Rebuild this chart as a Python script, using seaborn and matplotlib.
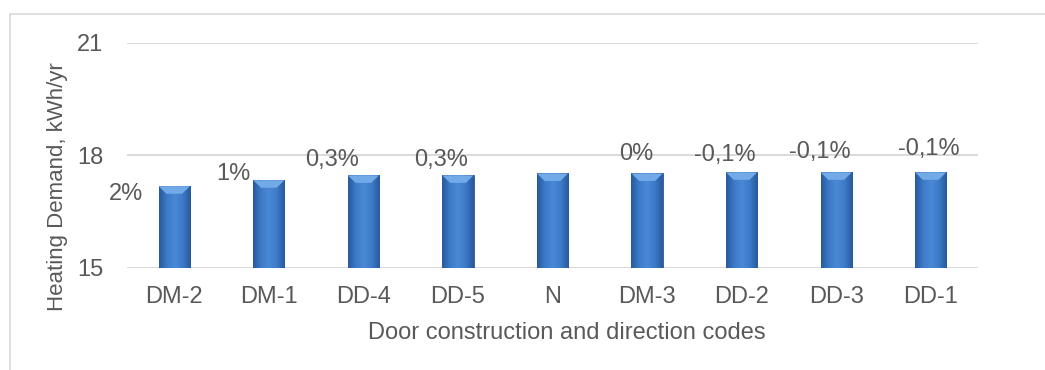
#!/usr/bin/env python3
import matplotlib

matplotlib.use("Agg")

import matplotlib.pyplot as plt
import numpy as np
import pandas as pd
import seaborn as sns
from matplotlib.colors import LinearSegmentedColormap
from matplotlib.lines import Line2D
from matplotlib.patches import Polygon

# Data
codes = ["DM-2", "DM-1", "DD-4", "DD-5", "N", "DM-3", "DD-2", "DD-3", "DD-1"]
heating = [17.18, 17.34, 17.47, 17.47, 17.52, 17.52, 17.55, 17.55, 17.55]
pct_labels = ["2%", "1%", "0,3%", "0,3%", "", "0%", "-0,1%", "-0,1%", "-0,1%"]
y_ticks = [15, 18, 21]

# Where Excel put the data labels (offset from bar centre, label height)
label_dx = [-0.51, -0.38, -0.33, -0.18, 0.0, -0.11, -0.18, -0.17, -0.02]
label_y = [16.97, 17.50, 17.88, 17.88, 18.0, 18.03, 18.02, 18.08, 18.16]

df = pd.DataFrame({"code": codes, "heating": heating})

sns.set_theme(style="white")
plt.rcParams["font.family"] = ["Liberation Sans", "DejaVu Sans"]

text_color = "#595959"
grid_color = "#d9d9d9"
fs = 17

fig = plt.figure(figsize=(10.45, 3.70), dpi=100)
ax = fig.add_axes([0.1215, 0.2757, 0.8144, 0.6081])

sns.barplot(data=df, x="code", y="heating", color="#3c76c4", width=0.33,
            ax=ax, zorder=3)

ax.set_ylim(15, 21)
ax.set_xlim(-0.5, len(codes) - 0.5)
ax.set_yticks(y_ticks)
for yv in y_ticks:
    ax.axhline(yv, color=grid_color, lw=1.4, zorder=1)

for s in ax.spines.values():
    s.set_visible(False)

# bevelled look: horizontal gradient plus a light top cap
cmap = LinearSegmentedColormap.from_list(
    "bevel", ["#28599b", "#3d7bc9", "#4a89d6", "#3d7bc9", "#28599b"])
grad = np.linspace(0, 1, 64).reshape(1, -1)
ybot = ax.get_ylim()[0]
for bar in ax.patches:
    x0, w, h = bar.get_x(), bar.get_width(), bar.get_height()
    top = bar.get_y() + h
    bar.set_edgecolor("#2a5694")
    bar.set_linewidth(0.6)
    ax.imshow(grad, cmap=cmap, aspect="auto", zorder=3.5,
              extent=(x0, x0 + w, ybot, top), interpolation="bicubic")
    cap = 0.2
    ax.add_patch(Polygon([(x0, top), (x0 + w, top),
                          (x0 + w * 0.75, top - cap), (x0 + w * 0.25, top - cap)],
                         closed=True, facecolor="#72aae8", edgecolor="none", zorder=4))
ax.set_xlim(-0.5, len(codes) - 0.5)
ax.set_ylim(15, 21)

for i, lab in enumerate(pct_labels):
    if lab:
        ax.text(i + label_dx[i], label_y[i], lab, ha="center", va="center",
                fontsize=fs, color=text_color, zorder=5)

ax.tick_params(axis="both", length=0, labelsize=fs, labelcolor=text_color)
ax.tick_params(axis="x", pad=13)
ax.tick_params(axis="y", pad=17)

ax.set_xlabel("Door construction and direction codes", fontsize=fs, color=text_color)
ax.set_ylabel("Heating Demand, kWh/yr", fontsize=16, color=text_color)
ax.xaxis.set_label_coords(0.517, -0.24)
ax.yaxis.set_label_coords(-0.069, 0.36)

# chart area border (top and left visible in the reference)
fig.add_artist(Line2D([10 / 1045, 1], [1 - 14 / 370] * 2, transform=fig.transFigure,
                      color=grid_color, lw=1.2))
fig.add_artist(Line2D([10 / 1045] * 2, [0, 1 - 14 / 370], transform=fig.transFigure,
                      color=grid_color, lw=1.2))

fig.savefig("out.png", dpi=100)
plt.close(fig)
